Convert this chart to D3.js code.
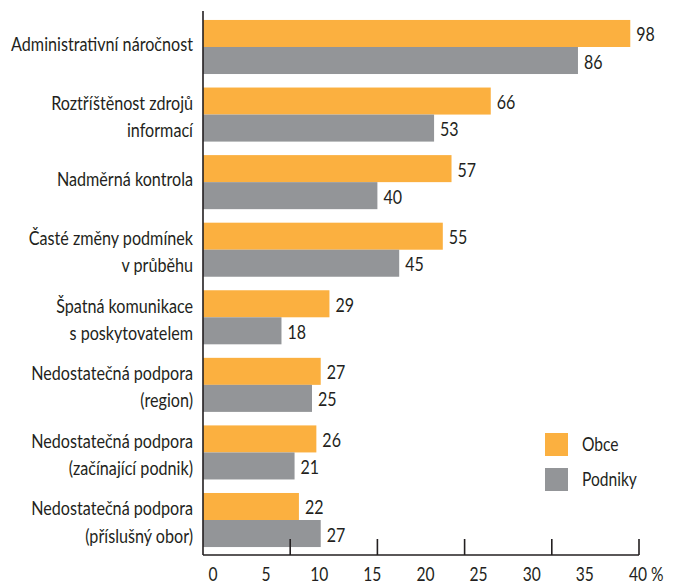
<!DOCTYPE html>
<html>
<head>
<meta charset="utf-8">
<script src="https://cdn.jsdelivr.net/npm/d3@7"></script>
<style>
  html, body { margin: 0; padding: 0; background: #fff; }
  svg text { font-family: Lato, 'Open Sans', sans-serif; fill: #231f20; }
</style>
</head>
<body>
<svg id="chart" width="674" height="585"></svg>
<script>
// ---- data ----
const categories = [
  ["Administrativní náročnost"],
  ["Roztříštěnost zdrojů", "informací"],
  ["Nadměrná kontrola"],
  ["Časté změny podmínek", "v průběhu"],
  ["Špatná komunikace", "s poskytovatelem"],
  ["Nedostatečná podpora", "(region)"],
  ["Nedostatečná podpora", "(začínající podnik)"],
  ["Nedostatečná podpora", "(příslušný obor)"]
];
const seriesNames = ["Obce", "Podniky"];
const obce =    [98, 66, 57, 55, 29, 27, 26, 22];
const podniky = [86, 53, 40, 45, 18, 25, 21, 27];
const tickLabels = ["0", "5", "10", "15", "20", "25", "30", "35", "40"];
const axisUnit = "%";
const colors = ["#fbb040", "#939598"];

// ---- layout ----
const svg = d3.select("#chart");
const ids = categories.map((d, i) => i);
const x = d3.scaleLinear().domain([0, 100]).range([203, 639]);
const y = d3.scaleBand().domain(ids).range([13.2, 553.8]).paddingInner(0.2).paddingOuter(0.1);
const ySub = d3.scaleBand().domain([0, 1]).range([0, y.bandwidth()]);
const labelX = d3.scalePoint().domain(tickLabels).range([213, 638]);
const axisY = 555;

// condensed-looking text via horizontal scaling
function addText(g, tx, ty, str, size, anchor, k) {
  return g.append("text")
    .attr("transform", `translate(${tx},${ty}) scale(${k || 0.8},1)`)
    .attr("text-anchor", anchor || "start")
    .attr("font-size", size)
    .text(str);
}

const series = [obce, podniky];

// bars
series.forEach((vals, s) => {
  svg.append("g").selectAll("rect").data(vals).join("rect")
    .attr("x", x(0))
    .attr("y", (d, i) => y(i) + ySub(s))
    .attr("width", d => x(d) - x(0))
    .attr("height", ySub.bandwidth())
    .attr("fill", colors[s]);
  const lg = svg.append("g");
  vals.forEach((d, i) => addText(lg, x(d) + 6, y(i) + ySub(s) + ySub.bandwidth() / 2 + 8, d, 20));
});

// category labels
const catG = svg.append("g");
categories.forEach((lines, i) => {
  if (lines.length === 1) {
    addText(catG, 193, y(i) + y.bandwidth() / 2 + 4, lines[0], 19, "end", 0.85);
  } else {
    lines.forEach((ln, k) => addText(catG, 193, y(i) + ySub(k) + ySub.bandwidth() / 2 + 9, ln, 19, "end", 0.85));
  }
});

// axes
const axG = svg.append("g").attr("stroke", "#231f20").attr("stroke-width", 1.6);
axG.append("line").attr("x1", x(0)).attr("x2", x(0)).attr("y1", 11).attr("y2", axisY);
axG.append("line").attr("x1", x(0)).attr("x2", x(100)).attr("y1", axisY).attr("y2", axisY);
axG.selectAll("line.tick").data(x.ticks(5).filter(d => d > 0)).join("line")
  .attr("class", "tick")
  .attr("x1", d => x(d)).attr("x2", d => x(d))
  .attr("y1", axisY - 16).attr("y2", axisY);

const tg = svg.append("g");
tickLabels.forEach(d => addText(tg, labelX(d), 581, d, 19.5, "middle"));
addText(tg, labelX(tickLabels[tickLabels.length - 1]) + 13, 581, axisUnit, 19.5, "start");

// legend
const leg = svg.append("g");
seriesNames.forEach((n, i) => {
  leg.append("rect").attr("x", 545).attr("y", 433 + i * 35).attr("width", 23).attr("height", 23).attr("fill", colors[i]);
  addText(leg, 582, 433 + i * 35 + 18, n, 19.5);
});
</script>
</body>
</html>
